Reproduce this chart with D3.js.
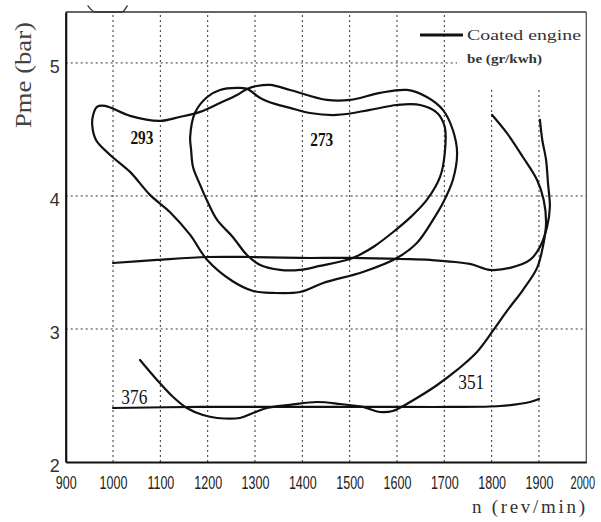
<!DOCTYPE html>
<html>
<head>
<meta charset="utf-8">
<script src="https://cdn.jsdelivr.net/npm/d3@7"></script>
<style>
  html, body { margin: 0; padding: 0; background: #fff; }
  svg { display: block; }
</style>
</head>
<body>
<svg id="chart" width="601" height="522"></svg>
<script>
// Engine map of the coated engine: specific consumption contours be (gr/kwh)
// over speed n (rev/min) and mean effective pressure Pme (bar).

const xTicks = [900, 1000, 1100, 1200, 1300, 1400, 1500, 1600, 1700, 1800, 1900, 2000];
const yTicks = [2, 3, 4, 5];
const xGrid = [1000, 1100, 1200, 1300, 1400, 1500, 1600, 1700, 1800, 1900];
const yGrid = [3, 4, 5];

// closed contour labelled 293
const loop293 = [
  [1283, 4.805], [1304, 4.827], [1332, 4.835], [1374, 4.797], [1452, 4.722],
  [1501, 4.722], [1564, 4.775], [1621, 4.797], [1663, 4.744], [1697, 4.647],
  [1718, 4.496], [1727, 4.323], [1718, 4.120], [1697, 3.947], [1676, 3.820],
  [1642, 3.647], [1600, 3.534], [1528, 3.429], [1444, 3.346], [1395, 3.278],
  [1338, 3.271], [1296, 3.286], [1252, 3.361], [1199, 3.519], [1163, 3.707],
  [1120, 3.880], [1078, 4.008], [1036, 4.181], [994, 4.308], [964, 4.421],
  [956, 4.534], [958, 4.609], [966, 4.669], [983, 4.677], [1036, 4.602],
  [1099, 4.564], [1141, 4.594], [1184, 4.632], [1226, 4.699], [1262, 4.759]
];

// closed contour labelled 273
const loop273 = [
  [1163, 4.444], [1165, 4.346], [1169, 4.218], [1184, 4.083], [1201, 3.947],
  [1220, 3.820], [1253, 3.692], [1283, 3.556], [1311, 3.481], [1353, 3.444],
  [1395, 3.444], [1437, 3.474], [1501, 3.526], [1528, 3.571], [1553, 3.624],
  [1592, 3.729], [1627, 3.835], [1663, 3.970], [1691, 4.143], [1701, 4.323],
  [1701, 4.519], [1685, 4.624], [1649, 4.684], [1600, 4.684], [1543, 4.647],
  [1473, 4.609], [1416, 4.624], [1374, 4.662], [1342, 4.692], [1311, 4.737],
  [1283, 4.805], [1262, 4.812], [1226, 4.797], [1199, 4.744], [1173, 4.624]
];

// open contour near 3.5 bar, turning up at 1900 rev/min
const line35 = [
  [1000, 3.496], [1093, 3.519], [1199, 3.541], [1289, 3.541], [1395, 3.534],
  [1501, 3.534], [1606, 3.526], [1670, 3.519], [1754, 3.489], [1796, 3.444],
  [1839, 3.459], [1881, 3.519], [1902, 3.617], [1917, 3.767], [1923, 3.917],
  [1919, 4.098], [1915, 4.271], [1907, 4.421], [1902, 4.572]
];

// open contour labelled 376 / 351
const curve351 = [
  [1057, 2.767], [1093, 2.617], [1127, 2.489], [1156, 2.406], [1190, 2.353],
  [1220, 2.331], [1268, 2.331], [1296, 2.368], [1325, 2.406], [1374, 2.429],
  [1431, 2.451], [1480, 2.436], [1528, 2.414], [1564, 2.376], [1591, 2.383],
  [1617, 2.429], [1649, 2.496], [1685, 2.579], [1727, 2.692], [1769, 2.827],
  [1804, 2.993], [1834, 3.143], [1866, 3.293], [1896, 3.459], [1909, 3.632],
  [1915, 3.797], [1910, 3.970], [1896, 4.120], [1866, 4.293], [1832, 4.474],
  [1801, 4.609]
];

// flat contour near 2.4 bar
const line24 = [
  [1000, 2.406], [1184, 2.414], [1395, 2.414], [1606, 2.414], [1712, 2.414],
  [1818, 2.421], [1881, 2.451], [1900, 2.474]
];

// trace running just over the top frame
const edgeTrace = [[947, 5.429], [962, 5.383], [1019, 5.383], [1030, 5.429]];

const contourLabels = ["293", "273", "376", "351"];
const contourLabelAt = [[1061, 4.432], [1441, 4.421], [1045, 2.485], [1757, 2.598]];

const legendLabel = "Coated engine";
const legendUnit = "be (gr/kwh)";
const xTitle = "n (rev/min)";
const yTitle = "Pme (bar)";

const svg = d3.select("#chart");
const x = d3.scaleLinear().domain([900, 2000]).range([65.7, 586.3]);
const y = d3.scaleLinear().domain([2, 5.383]).range([462, 12]);

// dotted grid
const grid = svg.append("g").attr("stroke", "#333").attr("stroke-width", 1)
  .attr("stroke-dasharray", "2,3");
grid.selectAll("line.v").data(xGrid).join("line").attr("class", "v")
  .attr("x1", d => x(d)).attr("x2", d => x(d))
  .attr("y1", y.range()[0]).attr("y2", y.range()[1]);
grid.selectAll("line.h").data(yGrid).join("line").attr("class", "h")
  .attr("x1", x.range()[0]).attr("x2", x.range()[1])
  .attr("y1", d => y(d)).attr("y2", d => y(d));

// legend panel
const lg = svg.append("g");
lg.append("rect").attr("x", 457).attr("y", 13).attr("width", 129).attr("height", 75)
  .attr("fill", "#fff");
lg.append("line").attr("x1", 420).attr("x2", 463).attr("y1", 35).attr("y2", 35)
  .attr("stroke", "#111").attr("stroke-width", 3);
lg.append("text").attr("x", 467).attr("y", 40).text(legendLabel)
  .attr("font-family", "'Liberation Serif', serif").attr("font-size", 15)
  .attr("fill", "#333").attr("textLength", 114).attr("lengthAdjust", "spacingAndGlyphs");
lg.append("text").attr("x", 467).attr("y", 63).text(legendUnit)
  .attr("font-family", "'Liberation Serif', serif").attr("font-size", 13)
  .attr("font-weight", "bold")
  .attr("fill", "#333").attr("textLength", 75).attr("lengthAdjust", "spacingAndGlyphs");

// contours
const closedLine = d3.line().x(d => x(d[0])).y(d => y(d[1])).curve(d3.curveCatmullRomClosed.alpha(0.5));
const openLine = d3.line().x(d => x(d[0])).y(d => y(d[1])).curve(d3.curveCatmullRom.alpha(0.5));
const curves = svg.append("g").attr("fill", "none").attr("stroke", "#111")
  .attr("stroke-width", 2.2).attr("stroke-linejoin", "round").attr("stroke-linecap", "round");
[loop293, loop273].forEach(s => curves.append("path").attr("d", closedLine(s)));
[line35, curve351, line24].forEach(s => curves.append("path").attr("d", openLine(s)));
curves.append("path")
  .attr("d", d3.line().x(d => x(d[0])).y(d => y(d[1])).curve(d3.curveMonotoneX)(edgeTrace))
  .attr("stroke-width", 1.3).attr("stroke", "#333");

svg.append("g").selectAll("text").data(contourLabels).join("text")
  .attr("x", (d, i) => x(contourLabelAt[i][0]))
  .attr("y", (d, i) => y(contourLabelAt[i][1]))
  .attr("dy", "0.33em").attr("text-anchor", "middle")
  .attr("font-family", "'Liberation Serif', serif")
  .attr("font-weight", (d, i) => i < 2 ? "bold" : "normal")
  .attr("font-size", (d, i) => i < 2 ? 18 : 20)
  .attr("textLength", (d, i) => i < 2 ? 23 : 26).attr("lengthAdjust", "spacingAndGlyphs")
  .attr("fill", "#111").text(d => d);

// frame
svg.append("line").attr("x1", x.range()[0]).attr("x2", x.range()[1])
  .attr("y1", y.range()[1]).attr("y2", y.range()[1]).attr("stroke", "#333").attr("stroke-width", 1.5);
svg.append("line").attr("x1", x.range()[1]).attr("x2", x.range()[1])
  .attr("y1", y.range()[1]).attr("y2", y.range()[0]).attr("stroke", "#555").attr("stroke-width", 1.3);

// axes (condensed tick numerals)
const xAxis = svg.append("g").attr("transform", `translate(0,${y.range()[0]})`)
  .call(d3.axisBottom(x).tickValues(xTicks).tickSize(0).tickPadding(13.5).tickFormat(d3.format("d")));
xAxis.select(".domain").attr("stroke", "#111").attr("stroke-width", 2.2);
xAxis.selectAll("text")
  .attr("font-family", "'Liberation Sans', Arial, sans-serif").attr("font-size", 19)
  .attr("fill", "#222")
  .attr("transform", d => d >= 2000 ? "translate(-4,0) scale(0.58,1)" : "scale(0.66,1)");

const yAxis = svg.append("g").attr("transform", `translate(${x.range()[0]},0)`)
  .call(d3.axisLeft(y).tickValues(yTicks).tickSize(0).tickPadding(6).tickFormat(d3.format("d")));
yAxis.select(".domain").attr("stroke", "#111").attr("stroke-width", 2.2);
yAxis.selectAll("text").attr("dy", "0.53em")
  .attr("font-family", "'Liberation Sans', Arial, sans-serif").attr("font-size", 18)
  .attr("fill", "#333");

// axis titles
svg.append("text").attr("transform", "translate(31,75) rotate(-90)")
  .attr("text-anchor", "middle").text(yTitle)
  .attr("font-family", "'Liberation Serif', serif").attr("font-size", 23).attr("fill", "#444")
  .attr("textLength", 106).attr("lengthAdjust", "spacingAndGlyphs");
svg.append("text").attr("x", 472).attr("y", 513).text(xTitle)
  .attr("font-family", "'Liberation Serif', serif").attr("font-size", 19).attr("fill", "#333")
  .attr("textLength", 113).attr("lengthAdjust", "spacing");
</script>
</body>
</html>
